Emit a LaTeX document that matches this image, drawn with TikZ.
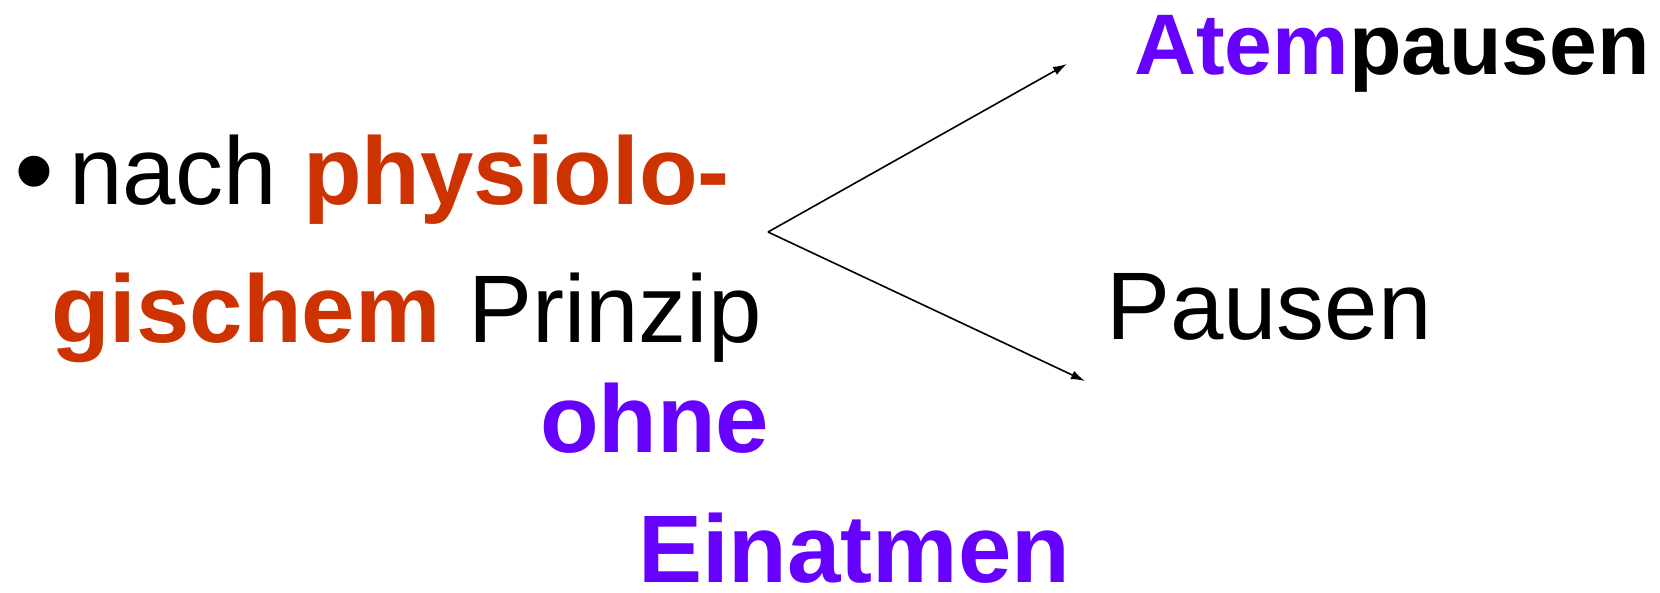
\documentclass[tikz,border=0pt]{standalone}
\usepackage{fontspec}
\setmainfont{Liberation Sans}
\usetikzlibrary{arrows.meta}
\definecolor{vio}{HTML}{6600FF}
\definecolor{rost}{HTML}{CC3300}
\tikzset{
  txt/.style={inner sep=0pt, outer sep=0pt, anchor=base west, font=\fontsize{96}{110}\selectfont},
  btxt/.style={txt, font=\fontsize{96}{110}\selectfont\bfseries},
  arr/.style={line width=1.6pt, -{Latex[length=14pt,width=9pt]}}
}
\begin{document}
\begin{tikzpicture}[x=1pt,y=-1pt]
\useasboundingbox (0,0) rectangle (1660,592);
\node[txt, font=\fontsize{114}{120}\selectfont] (bul) at (14,209) {•};
\node[txt] (nach) at (69,204) {nach};
\node[btxt, text=rost] (phys) at (303,204) {physiolo-};
\node[btxt, text=rost] (gisch) at (51,342) {gischem};
\node[txt] (prinz) at (468,342) {Prinzip};
\node[btxt, text=vio] (ohne) at (540,452) {ohne};
\node[btxt, text=vio] (einat) at (638,582) {Einatmen};
\node[inner sep=0pt, outer sep=0pt, anchor=base west, font=\fontsize{86}{100}\selectfont\bfseries] (atemp) at (1134,74) {\textcolor{vio}{Atem}pausen};
\node[txt] (pausen) at (1106,339) {Pausen};
\coordinate (apex) at (768,232);
\coordinate (tipA) at (1067,64);
\coordinate (tipB) at (1085,381);
\draw[arr] (apex) -- (tipA);
\draw[arr] (apex) -- (tipB);
\end{tikzpicture}
\end{document}
